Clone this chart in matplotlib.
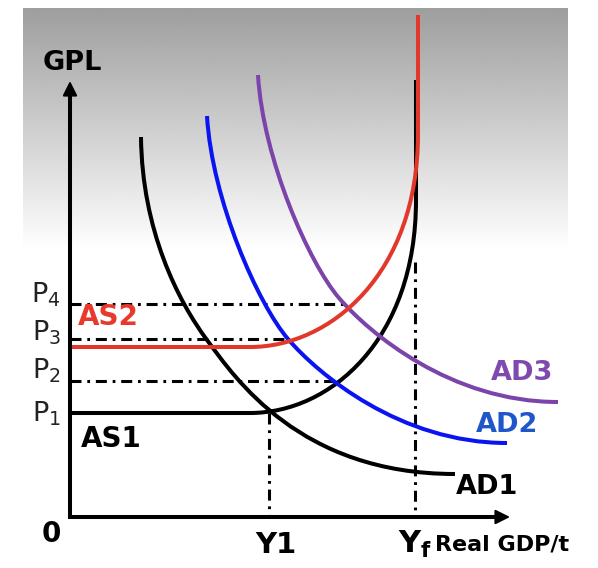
import numpy as np
import matplotlib
matplotlib.use("Agg")
import matplotlib.pyplot as plt
from matplotlib.path import Path
from matplotlib.patches import PathPatch

# price levels and output levels (diagram units)
p_levels = [10.4, 13.6, 17.8, 21.3]
p_labels = ["P$_1$", "P$_2$", "P$_3$", "P$_4$"]
p_ends = [19.9, 26.7, 21.8, 27.7]   # where each dash-dot guide meets its curve
y1 = 19.9
yf = 34.5
yf_top = 25.5

# AS curves: flat part, bezier bend, vertical part
as1_pts = [(0, 10.4), (18, 10.4), (26, 10.4), (34.6, 17.7), (34.6, 31.7), (34.6, 43.7)]
as2_pts = [(0, 17.0), (18, 17.0), (26, 17.0), (34.8, 24.3), (34.8, 38.3), (34.8, 50.2)]

# AD curves: two cubic bezier pieces each (control points)
ad1_pts = [(7.1, 38.0), (7.2, 28.7), (10.8, 21.6), (13.7, 17.7),
           (16.5, 13.9), (23.0, 4.3), (38.5, 4.3)]
ad2_pts = [(13.7, 40.1), (14.2, 31.7), (18.8, 21.3), (21.8, 17.8),
           (24.8, 14.3), (33.0, 7.4), (43.7, 7.4)]
ad3_pts = [(18.8, 44.2), (19.3, 35.8), (23.9, 25.4), (26.9, 21.9),
           (29.9, 18.4), (38.1, 11.5), (48.8, 11.5)]

RED = "#e2382b"
BLUE = "#0a14f0"
PURPLE = "#7a44ab"

fig = plt.figure(figsize=(5.98, 5.68), dpi=100)
ax = fig.add_axes([0, 0, 1, 1])

# grey slide gradient at the top
grad = np.linspace(0.62, 1.0, 256).reshape(-1, 1)
ax.imshow(grad, cmap="gray", vmin=0, vmax=1, aspect="auto",
          extent=(-4.7, 49.8, 26.7, 50.9), origin="upper", zorder=0)

ax.set_xlim(-7, 52.8)
ax.set_ylim(-5.1, 51.7)
ax.axis("off")

# axes with arrows
ax.plot([0, 0, 42.5], [42.2, 0, 0], color="black", lw=2.9,
        solid_joinstyle="miter", solid_capstyle="butt", zorder=5)
arrow = dict(arrowstyle="-|>", color="black", lw=1.5, mutation_scale=22,
             shrinkA=0, shrinkB=0)
ax.annotate("", xy=(0, 43.6), xytext=(0, 41.5), arrowprops=arrow, zorder=6)
ax.annotate("", xy=(44.0, 0), xytext=(42.0, 0), arrowprops=arrow, zorder=6)

# dash-dot guides
dashdot = (0, (3.6, 1.9, 0.9, 1.9))
for p, xe in zip(p_levels[1:], p_ends[1:]):
    ax.plot([0, xe], [p, p], color="black", lw=2.2, linestyle=dashdot, zorder=2)
ax.plot([y1, y1], [p_levels[0], 0], color="black", lw=2.2, linestyle=dashdot, zorder=2)
ax.plot([yf, yf], [yf_top, 0], color="black", lw=2.2, linestyle=dashdot, zorder=2)


def as_curve(pts, color, z):
    codes = [Path.MOVETO, Path.LINETO, Path.CURVE4, Path.CURVE4, Path.CURVE4, Path.LINETO]
    ax.add_patch(PathPatch(Path(pts, codes), fill=False, edgecolor=color,
                           lw=2.9, capstyle="butt", zorder=z))


def ad_curve(pts, color, z):
    codes = [Path.MOVETO] + [Path.CURVE4] * 6
    ax.add_patch(PathPatch(Path(pts, codes), fill=False, edgecolor=color,
                           lw=2.9, capstyle="butt", zorder=z))


as_curve(as1_pts, "black", 3)
as_curve(as2_pts, RED, 4)
ad_curve(ad1_pts, "black", 3)
ad_curve(ad2_pts, BLUE, 3)
ad_curve(ad3_pts, PURPLE, 3)

# labels
bold = dict(fontweight="bold", family="DejaVu Sans")
ax.text(0.2, 44.7, "GPL", fontsize=19.5, ha="center", va="baseline", **bold)
ax.text(3.8, 19.2, "AS2", fontsize=20, color="#e8392c", ha="center", va="baseline", **bold)
ax.text(4.1, 7.0, "AS1", fontsize=20, ha="center", va="baseline", **bold)
ax.text(41.7, 2.3, "AD1", fontsize=19.5, ha="center", va="baseline", **bold)
ax.text(43.7, 8.5, "AD2", fontsize=19.5, color="#1f56c9", ha="center", va="baseline", **bold)
ax.text(45.2, 13.7, "AD3", fontsize=19.5, color="#7e4ab0", ha="center", va="baseline", **bold)
ax.text(-1.9, -2.5, "0", fontsize=20, ha="center", va="baseline", **bold)
ax.text(20.6, -3.6, "Y1", fontsize=21, ha="center", va="baseline", **bold)
ax.text(32.8, -3.6, r"Y$_\mathbf{f}$", fontsize=22, ha="left", va="baseline", **bold)
ax.text(36.5, -3.3, "Real GDP/t", fontsize=16, ha="left", va="baseline", **bold)

p_base = [9.5, 13.9, 17.7, 21.5]
for b, lab in zip(p_base, p_labels):
    ax.text(-0.9, b, lab, fontsize=19.5, ha="right", va="baseline", color="#222222")

fig.savefig("out.png", dpi=100)
